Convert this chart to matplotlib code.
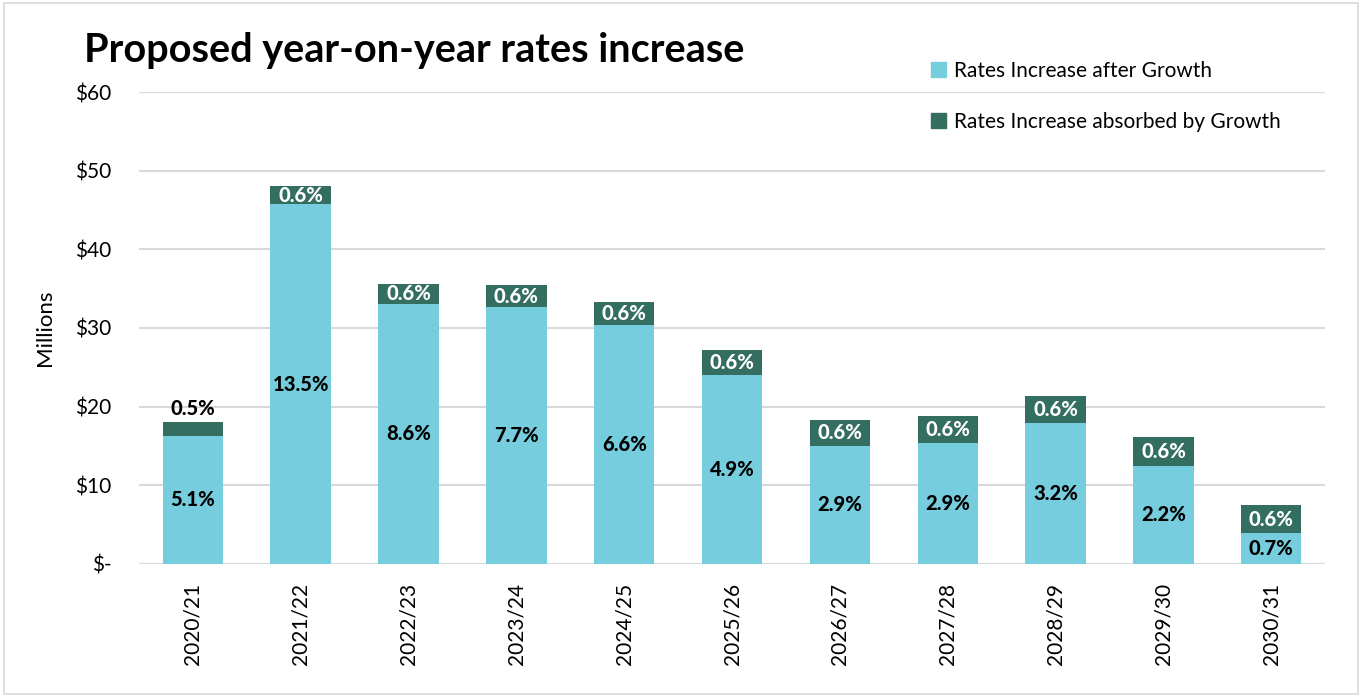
import matplotlib
matplotlib.use("Agg")
import matplotlib.pyplot as plt
from matplotlib.patches import Rectangle, Patch
import numpy as np

plt.rcParams['font.family'] = ['Lato', 'DejaVu Sans']

years = ["2020/21", "2021/22", "2022/23", "2023/24", "2024/25", "2025/26",
         "2026/27", "2027/28", "2028/29", "2029/30", "2030/31"]
after_growth = [16.3, 45.7, 33.1, 32.7, 30.4, 24.0, 15.0, 15.4, 17.9, 12.5, 3.9]
absorbed = [1.7, 2.4, 2.5, 2.7, 2.9, 3.2, 3.3, 3.4, 3.5, 3.6, 3.6]
after_pct = ["5.1%", "13.5%", "8.6%", "7.7%", "6.6%", "4.9%", "2.9%", "2.9%", "3.2%", "2.2%", "0.7%"]
absorbed_pct = ["0.5%", "0.6%", "0.6%", "0.6%", "0.6%", "0.6%", "0.6%", "0.6%", "0.6%", "0.6%", "0.6%"]
yticks = [0, 10, 20, 30, 40, 50, 60]
ytick_labels = ["$-", "$10", "$20", "$30", "$40", "$50", "$60"]

light = "#76CDDD"
dark = "#336E60"

fig = plt.figure(figsize=(13.62, 6.97), dpi=100)
ax = fig.add_axes([0.102, 0.191, 0.871, 0.677])

x = np.arange(len(years))
w = 0.56
ax.bar(x, after_growth, w, color=light, label="Rates Increase after Growth", zorder=3)
ax.bar(x, absorbed, w, bottom=after_growth, color=dark,
       label="Rates Increase absorbed by Growth", zorder=3)

for i in range(len(years)):
    ax.text(x[i], after_growth[i] / 2, after_pct[i], ha="center", va="center",
            fontsize=14.5, fontweight="black", color="black", zorder=4)
    top = after_growth[i] + absorbed[i]
    if absorbed[i] < 2.0:
        ax.text(x[i], top + 0.5, absorbed_pct[i], ha="center", va="bottom",
                fontsize=14.5, fontweight="black", color="black", zorder=4)
    else:
        ax.text(x[i], after_growth[i] + absorbed[i] / 2, absorbed_pct[i], ha="center",
                va="center", fontsize=14.5, fontweight="black", color="white", zorder=4)

ax.set_xlim(-0.5, len(years) - 0.5)
ax.set_ylim(0, 60)
ax.set_yticks(yticks)
ax.set_yticklabels(ytick_labels, fontsize=15)
ax.set_xticks(x)
ax.set_xticklabels(years, rotation=90, fontsize=15)
ax.tick_params(axis="y", length=0, pad=20)
ax.tick_params(axis="x", length=0, pad=14)
ax.grid(axis="y", color="#D9D9D9", linewidth=1.5, zorder=0)
for s in ax.spines.values():
    s.set_visible(False)
ax.set_ylabel("Millions", fontsize=16, labelpad=14)

fig.text(0.062, 0.928, "Proposed year-on-year rates increase", fontsize=28.5,
         fontweight="bold", ha="left", va="center")

handles = [Patch(color=light), Patch(color=dark)]
fig.legend(handles, ["Rates Increase after Growth", "Rates Increase absorbed by Growth"],
           loc="upper left", bbox_to_anchor=(0.670, 0.94), frameon=False,
           fontsize=15, handlelength=0.7, handleheight=0.7, handletextpad=0.4,
           labelspacing=1.5)

fig.add_artist(Rectangle((0.003, 0.004), 0.994, 0.992, transform=fig.transFigure,
                         fill=False, edgecolor="#D9D9D9", linewidth=1.2))

fig.savefig("out.png", dpi=100)
